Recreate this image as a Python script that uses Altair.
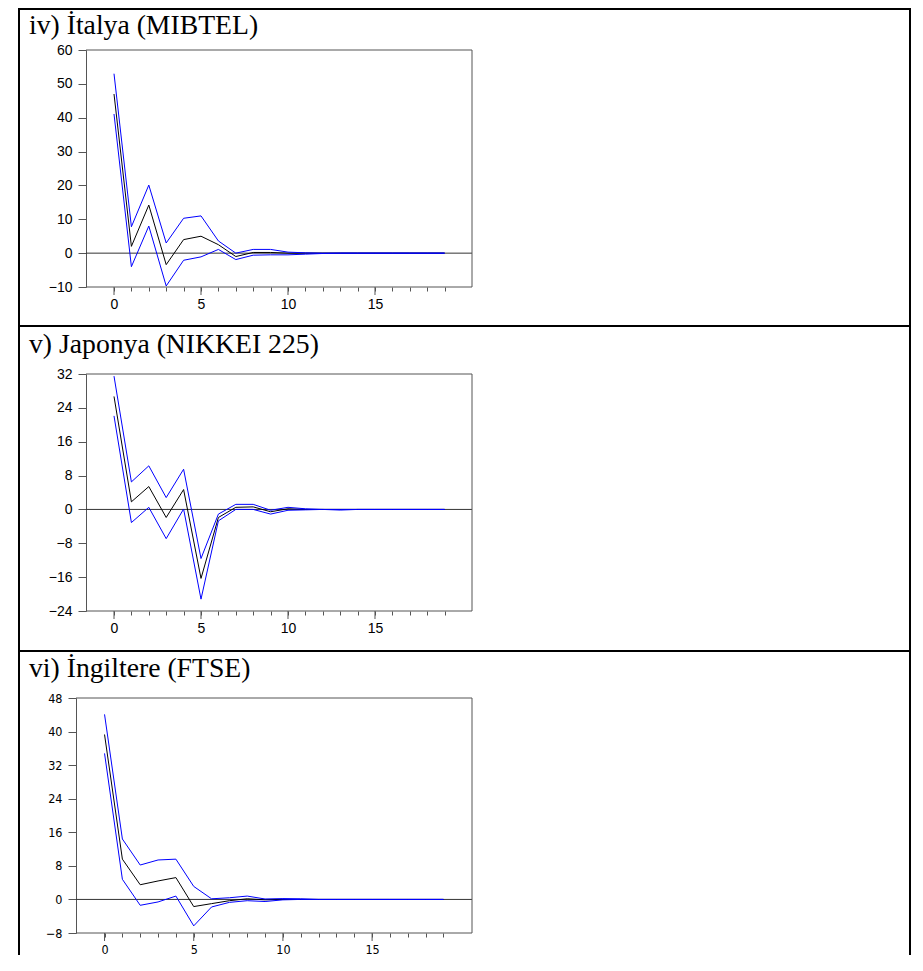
import altair as alt
import pandas as pd

steps = list(range(20))

titles = ["iv) İtalya (MIBTEL)", "v) Japonya (NIKKEI 225)", "vi) İngiltere (FTSE)"]

ita_resp = [47.0, 2.0, 14.2, -3.4, 4.0, 5.0, 2.5, -1.0, 0.2, 0.2, 0.0, 0.0, 0, 0, 0, 0, 0, 0, 0, 0]
ita_upper = [53.0, 7.8, 20.1, 3.0, 10.3, 11.0, 3.6, 0.0, 1.1, 1.1, 0.3, 0.1, 0, 0, 0, 0, 0, 0, 0, 0]
ita_lower = [41.1, -4.0, 8.0, -9.7, -2.1, -1.1, 1.1, -1.9, -0.6, -0.5, -0.5, -0.3, -0.1, 0, 0, 0, 0, 0, 0, 0]

jpn_resp = [26.7, 1.8, 5.4, -1.9, 4.7, -16.3, -1.9, 0.5, 0.6, -0.55, 0.15, 0.0, 0, 0, 0, 0, 0, 0, 0, 0]
jpn_upper = [31.5, 6.5, 10.3, 2.8, 9.5, -11.6, -1.1, 1.2, 1.2, -0.2, 0.5, 0.15, 0, 0, 0, 0, 0, 0, 0, 0]
jpn_lower = [22.1, -3.1, 0.5, -6.9, 0.1, -21.2, -2.7, 0.0, 0.0, -1.1, -0.2, -0.1, 0, -0.15, 0, 0, 0, 0, 0, 0]

gbr_resp = [39.3, 9.6, 3.5, 4.4, 5.2, -1.7, -1.0, -0.3, 0.15, -0.1, 0.0, 0.0, 0, 0, 0, 0, 0, 0, 0, 0]
gbr_upper = [44.1, 14.4, 8.2, 9.4, 9.6, 3.1, 0.15, 0.4, 0.8, 0.1, 0.2, 0.15, 0, 0, 0, 0, 0, 0, 0, 0]
gbr_lower = [34.8, 4.8, -1.4, -0.6, 0.8, -6.3, -1.8, -0.7, -0.3, -0.5, -0.1, 0.0, 0, 0, 0, 0, 0, 0, 0, 0]

y_ticks = [list(range(-10, 61, 10)), list(range(-24, 33, 8)), list(range(-8, 49, 8))]
x_tick_values = list(range(20))
x_major_ticks = [0, 5, 10, 15]
x_domains = [[-2.184, 20.575], [-2.184, 20.575], [-1.6, 20.6]]

panels = [
    dict(resp=ita_resp, upper=ita_upper, lower=ita_lower),
    dict(resp=jpn_resp, upper=jpn_upper, lower=jpn_lower),
    dict(resp=gbr_resp, upper=gbr_upper, lower=gbr_lower),
]

# layout (page pixels); every panel's view origin is at x=76
OX = 76
W = 396
geo = [
    dict(fl=10, py=50, h=237, top=9, bottom=326, tx=29, ty=34,
         font="Liberation Sans", fs=14),
    dict(fl=10, py=374, h=237, top=326, bottom=651, tx=29, ty=353,
         font="Liberation Sans", fs=14),
    dict(fl=0, py=698, h=235, top=651, bottom=956, tx=29, ty=677,
         font="Liberation Sans Narrow, DejaVu Sans Condensed, Liberation Sans", fs=12.5),
]

one = pd.DataFrame({"a": [0]})
FRAME = "#555555"


def rect(x1, x2, y1, y2):
    return alt.Chart(one).mark_rect(color="black").encode(
        x=alt.value(x1), x2=alt.value(x2), y=alt.value(y1), y2=alt.value(y2)
    )


def hrule(x1, x2, y):
    return alt.Chart(one).mark_rule(color=FRAME, strokeWidth=1).encode(
        x=alt.value(x1), x2=alt.value(x2), y=alt.value(y)
    )


def vrule(x, y1, y2):
    return alt.Chart(one).mark_rule(color=FRAME, strokeWidth=1).encode(
        x=alt.value(x), y=alt.value(y1), y2=alt.value(y2)
    )


charts = []
for i, (p, g) in enumerate(zip(panels, geo)):
    rows = []
    for s in ["resp", "lower", "upper"]:
        for t, v in zip(steps, p[s]):
            rows.append({"t": t, "v": v, "s": s})
    df = pd.DataFrame(rows)
    ymin, ymax = y_ticks[i][0], y_ticks[i][-1]
    fl, h = g["fl"], g["h"]

    xscale = alt.Scale(domain=x_domains[i], nice=False, zero=False)
    yscale = alt.Scale(domain=[ymin, ymax], nice=False, zero=False)
    xaxis = alt.Axis(
        values=x_tick_values,
        labelExpr="datum.value % 5 == 0 ? datum.label : ''",
        tickSize=4,
        labelPadding=6,
        labelFont=g["font"],
        labelFontSize=g["fs"],
        labelOverlap=False,
        labelFlush=False,
        domain=False,
        title=None,
    )
    yaxis = alt.Axis(
        values=y_ticks[i],
        tickSize=8,
        labelPadding=6,
        labelFont=g["font"],
        labelFontSize=g["fs"],
        labelOverlap=False,
        labelFlush=False,
        offset=-fl,
        title=None,
    )
    xenc = alt.X("t:Q", scale=xscale, axis=xaxis)
    yenc = alt.Y("v:Q", scale=yscale, axis=yaxis)

    zero = alt.Chart(pd.DataFrame({"v": [0]})).mark_rule(color="#333", strokeWidth=1).encode(
        y=yenc, x=alt.value(fl), x2=alt.value(W)
    )
    major = alt.Chart(pd.DataFrame({"t": x_major_ticks})).mark_rule(
        color=FRAME, strokeWidth=1
    ).encode(x=xenc, y=alt.value(h), y2=alt.value(h + 8))
    lines = alt.Chart(df).mark_line(strokeWidth=1).encode(
        x=xenc,
        y=yenc,
        detail="s:N",
        color=alt.Color(
            "s:N",
            scale=alt.Scale(domain=["resp", "lower", "upper"], range=["#000000", "#0000ff", "#0000ff"]),
            legend=None,
        ),
        order=alt.Order("t:Q"),
    )
    frame = [hrule(fl, W, 0), hrule(fl, W, h), vrule(W, 0, h)]

    py = g["py"]
    L1, L2 = 18 - OX, 20 - OX
    R1, R2 = 909 - OX, 911 - OX
    T1, T2 = g["top"] - 1 - py, g["top"] + 1 - py
    B = g["bottom"] - 1 - py
    borders = [
        rect(L1, R2, T1, T2),
        rect(L1, L2, T1, B),
        rect(R1, R2, T1, B),
    ]
    title = alt.Chart(pd.DataFrame({"title": [titles[i]]})).mark_text(
        align="left", baseline="alphabetic", font="Liberation Serif", fontSize=27.7, color="black"
    ).encode(text="title:N", x=alt.value(g["tx"] - OX), y=alt.value(g["ty"] - py))

    panel = alt.layer(zero, major, lines, *frame, title, *borders).properties(width=W, height=h)
    charts.append(panel)

chart = alt.concat(*charts, columns=1, spacing=0).properties(
    padding={"left": 10, "top": 0, "right": 0, "bottom": 0}
).configure_view(strokeWidth=0).configure_axis(
    domainColor=FRAME, tickColor=FRAME, labelColor="black", grid=False, domainWidth=1, tickWidth=1
)

chart.save("out.html", embed_options={"renderer": "svg", "actions": False})
